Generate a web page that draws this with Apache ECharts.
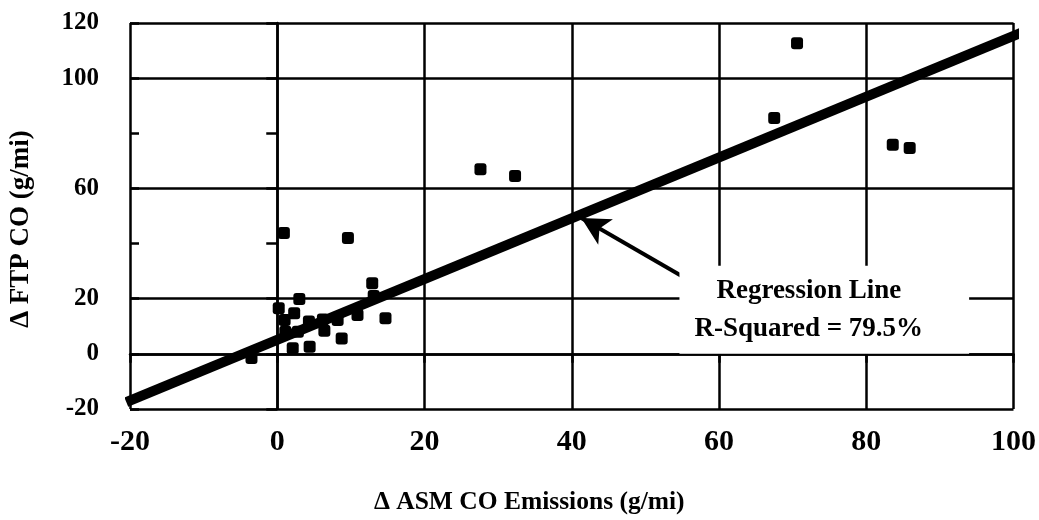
<!DOCTYPE html>
<html>
<head>
<meta charset="utf-8">
<script src="https://cdn.jsdelivr.net/npm/echarts@6/dist/echarts.min.js"></script>
<style>html,body{margin:0;padding:0;background:#fff;}#c{width:1039px;height:520px;}</style>
</head>
<body>
<div id="c"></div>
<script>
// Data
var asmX = [70.6, 67.5, 83.6, 85.9, 27.6, 32.3, 0.9, 9.6, 3.0, 12.9, 13.1, 14.7, 10.9, 8.2, 6.2, 6.4, 4.3, 2.8, 2.3, 1.0, 1.1, 0.2, 2.1, 4.4, 8.75, -3.5];
var ftpY = [112.7, 85.5, 75.8, 74.7, 67.0, 64.5, 43.8, 42.0, 19.9, 25.6, 21.0, 12.9, 14.1, 12.3, 12.5, 8.4, 11.7, 8.0, 14.7, 12.3, 8.0, 16.5, 2.0, 2.6, 5.6, -1.5];
var regX = [-20.5, 102];
var regY = [-17.5, 117.5];
var gridY = [120, 100, 60, 20, 0, -20];
var hiddenYLabels = [80, 40];
var arrowFrom = [56.4, 26];
var arrowTo = [41.3, 49.3];
var notePos = [74.3, 16.0];
var noteText = 'Regression Line\nR-Squared = 79.5%';
var xName = '\u0394 ASM CO Emissions (g/mi)';
var yName = '\u0394 FTP CO (g/mi)';

var FONT = '"Liberation Serif", "Times New Roman", serif';
var pts = asmX.map(function (x, i) { return [x, ftpY[i]]; });
var reg = regX.map(function (x, i) { return [x, regY[i]]; });

var chart = echarts.init(document.getElementById('c'), null, {renderer: 'canvas'});
chart.setOption({
  animation: false,
  backgroundColor: '#fff',
  grid: {left: 129, right: 19, top: 23, bottom: 111},
  xAxis: {
    type: 'value', min: -20, max: 100, interval: 20,
    name: xName, nameLocation: 'middle', nameGap: 80,
    nameTextStyle: {fontFamily: FONT, fontWeight: 'bold', fontSize: 25.5, color: '#000', padding: [0, 85, 0, 0]},
    axisLine: {show: true, lineStyle: {color: '#000', width: 2.5}},
    axisTick: {show: true, length: 9, lineStyle: {color: '#000', width: 2.5}},
    axisLabel: {fontFamily: FONT, fontWeight: 'bold', fontSize: 30, color: '#000', margin: 18},
    splitLine: {show: true, lineStyle: {color: '#000', width: 2.5}}
  },
  yAxis: [{
    type: 'value', min: -20, max: 120, interval: 20,
    name: yName, nameLocation: 'middle', nameGap: 95,
    nameTextStyle: {fontFamily: FONT, fontWeight: 'bold', fontSize: 27, color: '#000', padding: [0, 26, 0, 0]},
    axisLine: {show: true, lineStyle: {color: '#000', width: 2.5}},
    axisTick: {show: true, length: 11, lineStyle: {color: '#000', width: 2.5}},
    axisLabel: {
      fontFamily: FONT, fontWeight: 'bold', fontSize: 25, color: '#000', margin: 31,
      formatter: function (v) { return hiddenYLabels.indexOf(v) >= 0 ? '' : String(v); }
    },
    splitLine: {show: false}
  }, {
    type: 'value', min: -20, max: 120, interval: 20, position: 'left', offset: 0,
    axisLine: {show: false},
    axisTick: {show: true, inside: true, length: 9, lineStyle: {color: '#000', width: 2.5}},
    axisLabel: {show: false},
    splitLine: {show: false}
  }],
  series: [
    {
      type: 'line', data: [], z: 1, silent: true,
      markLine: {
        silent: true, symbol: 'none', animation: false,
        label: {show: false},
        lineStyle: {color: '#000', width: 2.5, type: 'solid', opacity: 1},
        data: gridY.map(function (v) { return {yAxis: v}; })
      }
    },
    {
      type: 'line', data: reg, z: 3, clip: false, symbol: 'none',
      lineStyle: {color: '#000', width: 10, cap: 'butt', opacity: 1}
    },
    {
      type: 'scatter', data: pts, z: 4, symbol: 'roundRect', symbolSize: 12,
      itemStyle: {color: '#000', opacity: 1}
    },
    {
      type: 'scatter', data: [notePos], z: 5, symbolSize: 0, silent: true,
      itemStyle: {opacity: 1},
      label: {
        show: true, position: 'inside', formatter: noteText,
        fontFamily: FONT, fontWeight: 'bold', fontSize: 27, color: '#000',
        lineHeight: 38, align: 'center', verticalAlign: 'middle',
        backgroundColor: '#fff', padding: [12, 46, 0, 15]
      },
      markLine: {
        silent: true, animation: false,
        symbol: ['none', 'arrow'], symbolSize: [22, 28],
        label: {show: false},
        lineStyle: {color: '#000', width: 4, type: 'solid', opacity: 1},
        data: [[{coord: arrowFrom}, {coord: arrowTo}]]
      }
    }
  ]
});
</script>
</body>
</html>
